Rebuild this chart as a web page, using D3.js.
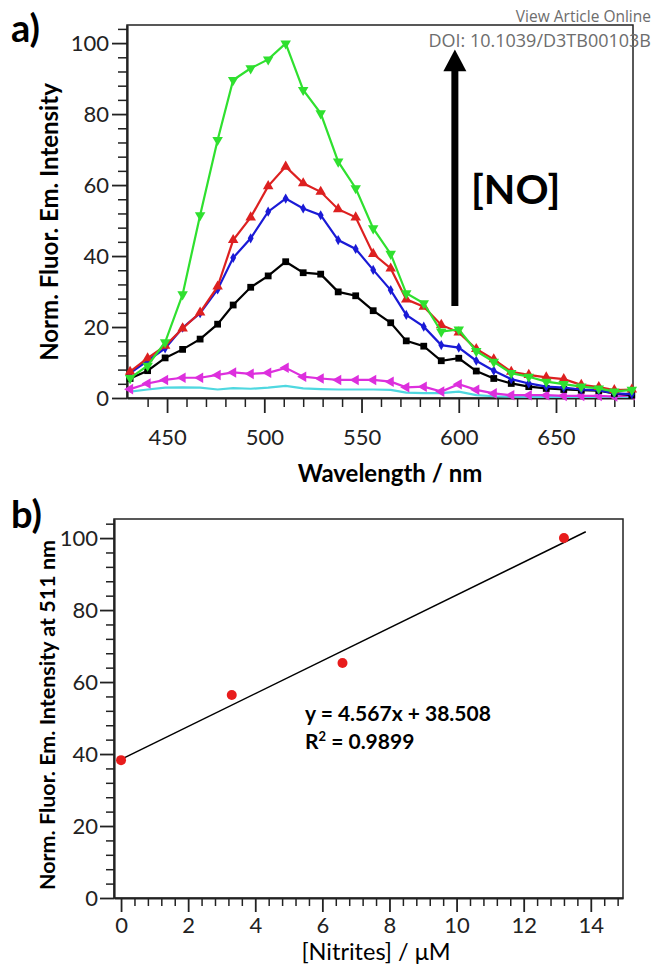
<!DOCTYPE html>
<html>
<head>
<meta charset="utf-8">
<script src="https://cdn.jsdelivr.net/npm/d3@7"></script>
<style>
  body { margin: 0; background: #fff; }
  svg { display: block; font-family: Lato, "Open Sans", sans-serif; }
  .axis path, .axis line { stroke: #222; }
</style>
</head>
<body>
<div class="render"></div>
<script>
// panel a) emission spectra, one array per [NO] level
var wavelengths = [431, 440, 449, 458, 467, 476, 484, 493, 502, 511, 520, 529, 538, 547, 556,
                   565, 573, 582, 591, 600, 609, 618, 627, 636, 645, 654, 663, 672, 680, 689];
var cyanVals    = [1.8, 2.4, 2.9, 3.0, 2.9, 2.4, 2.8, 2.6, 2.9, 3.4, 2.7, 2.5, 2.4, 2.4, 2.4,
                   2.3, 1.5, 1.4, 1.4, 1.8, 0.8, 0.5, 0.4, 0.3, 0.3, 0.3, 0.3, 0.3, 0.3, 0.3];
var magentaVals = [2.5, 4.1, 5.1, 5.7, 5.7, 6.5, 7.2, 6.8, 7.1, 8.5, 6.0, 5.5, 5.1, 5.1, 5.1,
                   4.6, 3.0, 3.2, 1.8, 3.9, 2.3, 1.3, 0.8, 0.8, 0.8, 0.6, 0.6, 0.6, 0.4, 0.8];
var blackVals   = [5.5, 7.7, 11.3, 13.7, 16.6, 20.8, 26.2, 31.2, 34.4, 38.4, 35.3, 34.9, 29.9, 28.8, 24.6,
                   21.2, 16.1, 14.6, 10.5, 11.2, 7.6, 5.5, 4.1, 3.2, 2.7, 2.4, 2.2, 2.1, 1.3, 0.8];
var blueVals    = [7.0, 10.5, 14.0, 19.8, 23.9, 30.6, 39.5, 45.0, 52.5, 56.2, 53.4, 51.5, 44.5, 42.0, 36.1,
                   30.4, 23.4, 20.1, 14.9, 14.2, 10.5, 7.7, 5.3, 4.1, 3.2, 2.9, 2.4, 2.2, 1.3, 1.1];
var redVals     = [7.4, 11.2, 14.7, 19.6, 24.1, 31.4, 44.5, 50.9, 59.7, 65.2, 60.5, 58.1, 53.2, 50.9, 40.6,
                   36.5, 27.8, 25.7, 20.6, 18.5, 13.8, 10.9, 7.4, 6.5, 5.8, 5.3, 3.7, 3.1, 2.2, 2.4];
var greenVals   = [5.6, 9.1, 15.7, 29.2, 51.5, 72.7, 89.6, 92.9, 95.4, 99.9, 86.8, 80.2, 66.6, 59.1, 47.8,
                   40.6, 29.5, 26.7, 18.7, 19.3, 13.2, 10.2, 7.0, 6.0, 4.6, 3.9, 3.2, 2.7, 1.8, 2.3];
var spectraTicks = [450, 500, 550, 600, 650];
var intensityTicks = [0, 20, 40, 60, 80, 100];

// panel b) calibration at 511 nm
var nitrites = [0, 3.3, 6.6, 13.2];
var intensity511 = [38.3, 56.4, 65.3, 100];
var fitSlope = 4.567, fitIntercept = 38.508;
var nitriteTicks = [0, 2, 4, 6, 8, 10, 12, 14];

var W = 653, H = 968;
var svg = d3.select(".render").append("svg").attr("width", W).attr("height", H);
svg.append("rect").attr("width", W).attr("height", H).attr("fill", "#fff");

function styleMajor(g) {
    g.select(".domain").attr("stroke-width", 2.2);
    g.selectAll("line").attr("stroke-width", 1.8);
    g.selectAll("text").attr("font-size", 22).attr("fill", "#222").style("font-family", "Lato");
}

// ---------- panel a ----------
var ax = { left: 127, right: 633, top: 25, bottom: 398 };
var x1 = d3.scaleLinear().domain([429.4, 689.6]).range([ax.left, ax.right]);
var y1 = d3.scaleLinear().domain([0, 105.1]).range([ax.bottom, ax.top]);

var gA = svg.append("g");
gA.append("rect")
    .attr("x", ax.left).attr("y", ax.top)
    .attr("width", ax.right - ax.left).attr("height", ax.bottom - ax.top)
    .attr("fill", "none").attr("stroke", "#222").attr("stroke-width", 1.5);

var minorX1 = d3.range(440, 691, 10).filter(function(v) { return v % 50 != 0; });
gA.append("g").attr("class", "axis").attr("transform", "translate(0," + ax.bottom + ")")
    .call(d3.axisBottom(x1).tickValues(minorX1).tickSize(9).tickSizeOuter(0).tickFormat(""))
    .call(function(g) { g.select(".domain").remove(); g.selectAll("line").attr("stroke-width", 1.5); });
gA.append("g").attr("class", "axis").attr("transform", "translate(0," + ax.bottom + ")")
    .call(d3.axisBottom(x1).tickValues(spectraTicks).tickSize(15).tickSizeOuter(0).tickPadding(16))
    .call(styleMajor);

var minorY1 = d3.range(4, 105, 4).filter(function(v) { return v % 20 != 0; });
gA.append("g").attr("class", "axis").attr("transform", "translate(" + ax.left + ",0)")
    .call(d3.axisLeft(y1).tickValues(minorY1).tickSize(9).tickSizeOuter(0).tickFormat(""))
    .call(function(g) { g.select(".domain").remove(); g.selectAll("line").attr("stroke-width", 1.5); });
gA.append("g").attr("class", "axis").attr("transform", "translate(" + ax.left + ",0)")
    .call(d3.axisLeft(y1).tickValues(intensityTicks).tickSize(15).tickSizeOuter(0).tickPadding(3))
    .call(styleMajor);

var series = [
    { vals: cyanVals,    color: "#4fd8e0", sym: null },
    { vals: magentaVals, color: "#dd2fdd", sym: d3.symbolTriangle, rot: -90, size: 48 },
    { vals: blackVals,   color: "#000000", sym: d3.symbolSquare,   rot: 0,   size: 46 },
    { vals: blueVals,    color: "#1a1ad6", sym: d3.symbolDiamond,  rot: 0,   size: 30 },
    { vals: redVals,     color: "#dd2020", sym: d3.symbolTriangle, rot: 0,   size: 48 },
    { vals: greenVals,   color: "#2fe02f", sym: d3.symbolTriangle, rot: 180, size: 48 }
];

var line1 = d3.line()
    .x(function(d) { return x1(d[0]); })
    .y(function(d) { return y1(d[1]); });

series.forEach(function(s) {
    var pts = wavelengths.map(function(w, i) { return [w, s.vals[i]]; });
    gA.append("path").datum(pts)
        .attr("d", line1).attr("fill", "none")
        .attr("stroke", s.color).attr("stroke-width", 2.2);
    if (s.sym) {
        gA.selectAll(null).data(pts).enter().append("path")
            .attr("d", d3.symbol().type(s.sym).size(s.size))
            .attr("transform", function(d) {
                return "translate(" + x1(d[0]) + "," + y1(d[1]) + ") rotate(" + s.rot + ")";
            })
            .attr("fill", s.color);
    }
});

// [NO] arrow
var arrowX = x1(598);
gA.append("line")
    .attr("x1", arrowX).attr("x2", arrowX)
    .attr("y1", y1(25.9)).attr("y2", y1(92.5))
    .attr("stroke", "#000").attr("stroke-width", 7);
gA.append("path")
    .attr("d", "M" + (arrowX - 11.5) + "," + y1(92.1) + "L" + arrowX + "," + y1(98.2) +
               "L" + (arrowX + 11.5) + "," + y1(92.1) + "Z")
    .attr("fill", "#000");
gA.append("text").attr("x", 471).attr("y", 204)
    .attr("font-size", 41).attr("font-weight", 700).text("[NO]");

gA.append("text").attr("x", 390).attr("y", 482).attr("text-anchor", "middle")
    .attr("font-size", 24).attr("font-weight", 700).text("Wavelength / nm");
gA.append("text").attr("transform", "translate(58,222) rotate(-90)").attr("text-anchor", "middle")
    .attr("font-size", 24).attr("font-weight", 700).text("Norm. Fluor. Em. Intensity");
gA.append("text").attr("x", 11).attr("y", 42)
    .attr("font-size", 38).attr("font-weight", 700).text("a)");

// ---------- panel b ----------
var bx = { left: 114, right: 623, top: 519, bottom: 898 };
var x2 = d3.scaleLinear().domain([-0.21, 14.96]).range([bx.left, bx.right]);
var y2 = d3.scaleLinear().domain([0, 105.3]).range([bx.bottom, bx.top]);

var gB = svg.append("g");
gB.append("rect")
    .attr("x", bx.left).attr("y", bx.top)
    .attr("width", bx.right - bx.left).attr("height", bx.bottom - bx.top)
    .attr("fill", "none").attr("stroke", "#222").attr("stroke-width", 1.5);

var minorX2 = d3.range(0, 14.9, 0.4).filter(function(v, i) { return i % 5 != 0; });
gB.append("g").attr("class", "axis").attr("transform", "translate(0," + bx.bottom + ")")
    .call(d3.axisBottom(x2).tickValues(minorX2).tickSize(8).tickSizeOuter(0).tickFormat(""))
    .call(function(g) { g.select(".domain").remove(); g.selectAll("line").attr("stroke-width", 1.5); });
gB.append("g").attr("class", "axis").attr("transform", "translate(0," + bx.bottom + ")")
    .call(d3.axisBottom(x2).tickValues(nitriteTicks).tickSize(14).tickSizeOuter(0).tickPadding(5))
    .call(styleMajor);

gB.append("g").attr("class", "axis").attr("transform", "translate(" + bx.left + ",0)")
    .call(d3.axisLeft(y2).tickValues(minorY1).tickSize(8).tickSizeOuter(0).tickFormat(""))
    .call(function(g) { g.select(".domain").remove(); g.selectAll("line").attr("stroke-width", 1.5); });
gB.append("g").attr("class", "axis").attr("transform", "translate(" + bx.left + ",0)")
    .call(d3.axisLeft(y2).tickValues(intensityTicks).tickSize(14).tickSizeOuter(0).tickPadding(2))
    .call(styleMajor);

// linear fit
var fitEnds = [0, 13.85];
gB.append("line")
    .attr("x1", x2(fitEnds[0])).attr("y1", y2(fitSlope * fitEnds[0] + fitIntercept))
    .attr("x2", x2(fitEnds[1])).attr("y2", y2(fitSlope * fitEnds[1] + fitIntercept))
    .attr("stroke", "#000").attr("stroke-width", 1.5);

gB.selectAll("circle").data(nitrites).enter().append("circle")
    .attr("cx", function(d) { return x2(d); })
    .attr("cy", function(d, i) { return y2(intensity511[i]); })
    .attr("r", 5).attr("fill", "#e81c1c");

gB.append("text").attr("x", 305).attr("y", 721)
    .attr("font-size", 21).attr("font-weight", 700).text("y = 4.567x + 38.508");
var r2 = gB.append("text").attr("x", 305).attr("y", 749)
    .attr("font-size", 21).attr("font-weight", 700);
r2.append("tspan").text("R");
r2.append("tspan").attr("dy", -8).attr("font-size", 13).text("2");
r2.append("tspan").attr("dy", 8).text(" = 0.9899");

gB.append("text").attr("x", 376).attr("y", 960).attr("text-anchor", "middle")
    .attr("font-size", 23.5).text("[Nitrites] / μM");
gB.append("text").attr("transform", "translate(55,715) rotate(-90)").attr("text-anchor", "middle")
    .attr("font-size", 21.5).attr("font-weight", 700).text("Norm. Fluor. Em. Intensity at 511 nm");
gB.append("text").attr("x", 11).attr("y", 528)
    .attr("font-size", 38).attr("font-weight", 700).text("b)");

// journal watermark
svg.append("text").attr("x", 651).attr("y", 22).attr("text-anchor", "end")
    .attr("font-size", 15.5).attr("fill", "#6d6d6d").style("font-family", "Open Sans").text("View Article Online");
svg.append("text").attr("x", 651).attr("y", 47).attr("text-anchor", "end")
    .attr("font-size", 18).attr("fill", "#6d6d6d").style("font-family", "Open Sans").text("DOI: 10.1039/D3TB00103B");
</script>
</body>
</html>
